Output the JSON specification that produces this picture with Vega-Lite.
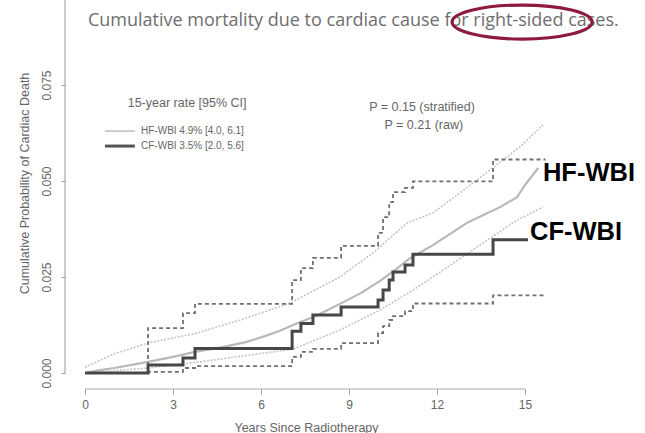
{
  "$schema": "https://vega.github.io/schema/vega-lite/v6.json",
  "width": 580,
  "height": 389,
  "autosize": {"type": "none"},
  "padding": {"left": 65, "top": 0, "right": 0, "bottom": 44},
  "background": "white",
  "config": {
    "view": {"stroke": null},
    "text": {"font": "Liberation Sans"}
  },
  "datasets": {
    "curves": [
      {"curve": "HF-WBI", "t": 0, "p": 0},
      {"curve": "HF-WBI", "t": 0.4, "p": 0.0006},
      {"curve": "HF-WBI", "t": 1.0, "p": 0.0013},
      {"curve": "HF-WBI", "t": 2.15, "p": 0.0029},
      {"curve": "HF-WBI", "t": 3.0, "p": 0.0042},
      {"curve": "HF-WBI", "t": 3.75, "p": 0.0055},
      {"curve": "HF-WBI", "t": 4.6, "p": 0.0066},
      {"curve": "HF-WBI", "t": 5.52, "p": 0.0081},
      {"curve": "HF-WBI", "t": 6.2, "p": 0.0098},
      {"curve": "HF-WBI", "t": 6.65, "p": 0.0110},
      {"curve": "HF-WBI", "t": 7.09, "p": 0.0125},
      {"curve": "HF-WBI", "t": 7.9, "p": 0.0150},
      {"curve": "HF-WBI", "t": 8.69, "p": 0.0180},
      {"curve": "HF-WBI", "t": 9.4, "p": 0.0208},
      {"curve": "HF-WBI", "t": 10.06, "p": 0.0240},
      {"curve": "HF-WBI", "t": 10.6, "p": 0.0270},
      {"curve": "HF-WBI", "t": 11.08, "p": 0.0299},
      {"curve": "HF-WBI", "t": 11.86, "p": 0.0333},
      {"curve": "HF-WBI", "t": 12.5, "p": 0.0365},
      {"curve": "HF-WBI", "t": 13.02, "p": 0.0391},
      {"curve": "HF-WBI", "t": 13.6, "p": 0.0412},
      {"curve": "HF-WBI", "t": 14.15, "p": 0.0432},
      {"curve": "HF-WBI", "t": 14.73, "p": 0.0458},
      {"curve": "HF-WBI", "t": 15.0, "p": 0.0490},
      {"curve": "HF-WBI", "t": 15.45, "p": 0.0534},

      {"curve": "HF-WBI upper", "t": 0, "p": 0.0015},
      {"curve": "HF-WBI upper", "t": 1.0, "p": 0.0050},
      {"curve": "HF-WBI upper", "t": 2.15, "p": 0.0078},
      {"curve": "HF-WBI upper", "t": 3.82, "p": 0.0104},
      {"curve": "HF-WBI upper", "t": 5.29, "p": 0.0138},
      {"curve": "HF-WBI upper", "t": 6.99, "p": 0.0182},
      {"curve": "HF-WBI upper", "t": 8.69, "p": 0.0250},
      {"curve": "HF-WBI upper", "t": 9.82, "p": 0.0313},
      {"curve": "HF-WBI upper", "t": 10.98, "p": 0.0391},
      {"curve": "HF-WBI upper", "t": 11.86, "p": 0.0417},
      {"curve": "HF-WBI upper", "t": 12.78, "p": 0.0469},
      {"curve": "HF-WBI upper", "t": 13.81, "p": 0.0529},
      {"curve": "HF-WBI upper", "t": 14.83, "p": 0.0589},
      {"curve": "HF-WBI upper", "t": 15.61, "p": 0.0646},

      {"curve": "HF-WBI lower", "t": 0, "p": 0},
      {"curve": "HF-WBI lower", "t": 1.0, "p": 0.0006},
      {"curve": "HF-WBI lower", "t": 2.15, "p": 0.0013},
      {"curve": "HF-WBI lower", "t": 3.92, "p": 0.0029},
      {"curve": "HF-WBI lower", "t": 5.63, "p": 0.0047},
      {"curve": "HF-WBI lower", "t": 7.09, "p": 0.0062},
      {"curve": "HF-WBI lower", "t": 8.69, "p": 0.0112},
      {"curve": "HF-WBI lower", "t": 10.06, "p": 0.0164},
      {"curve": "HF-WBI lower", "t": 11.08, "p": 0.0211},
      {"curve": "HF-WBI lower", "t": 11.86, "p": 0.0250},
      {"curve": "HF-WBI lower", "t": 13.57, "p": 0.0339},
      {"curve": "HF-WBI lower", "t": 14.73, "p": 0.0398},
      {"curve": "HF-WBI lower", "t": 15.61, "p": 0.0432},

      {"curve": "CF-WBI", "t": 0, "p": 0},
      {"curve": "CF-WBI", "t": 2.15, "p": 0.0021},
      {"curve": "CF-WBI", "t": 3.34, "p": 0.0039},
      {"curve": "CF-WBI", "t": 3.75, "p": 0.0064},
      {"curve": "CF-WBI", "t": 7.06, "p": 0.0109},
      {"curve": "CF-WBI", "t": 7.36, "p": 0.0129},
      {"curve": "CF-WBI", "t": 7.77, "p": 0.0151},
      {"curve": "CF-WBI", "t": 8.73, "p": 0.0172},
      {"curve": "CF-WBI", "t": 9.99, "p": 0.0190},
      {"curve": "CF-WBI", "t": 10.16, "p": 0.0216},
      {"curve": "CF-WBI", "t": 10.37, "p": 0.0242},
      {"curve": "CF-WBI", "t": 10.5, "p": 0.0263},
      {"curve": "CF-WBI", "t": 10.91, "p": 0.0281},
      {"curve": "CF-WBI", "t": 11.18, "p": 0.0309},
      {"curve": "CF-WBI", "t": 13.91, "p": 0.0347},
      {"curve": "CF-WBI", "t": 15.1, "p": 0.0347},

      {"curve": "CF-WBI upper", "t": 0, "p": 0},
      {"curve": "CF-WBI upper", "t": 2.15, "p": 0.0117},
      {"curve": "CF-WBI upper", "t": 3.34, "p": 0.0156},
      {"curve": "CF-WBI upper", "t": 3.75, "p": 0.0180},
      {"curve": "CF-WBI upper", "t": 7.06, "p": 0.0242},
      {"curve": "CF-WBI upper", "t": 7.36, "p": 0.0273},
      {"curve": "CF-WBI upper", "t": 7.77, "p": 0.0300},
      {"curve": "CF-WBI upper", "t": 8.73, "p": 0.0331},
      {"curve": "CF-WBI upper", "t": 9.99, "p": 0.0365},
      {"curve": "CF-WBI upper", "t": 10.16, "p": 0.0406},
      {"curve": "CF-WBI upper", "t": 10.37, "p": 0.0445},
      {"curve": "CF-WBI upper", "t": 10.5, "p": 0.0471},
      {"curve": "CF-WBI upper", "t": 10.91, "p": 0.0482},
      {"curve": "CF-WBI upper", "t": 11.18, "p": 0.0499},
      {"curve": "CF-WBI upper", "t": 13.91, "p": 0.0556},
      {"curve": "CF-WBI upper", "t": 15.7, "p": 0.0556},

      {"curve": "CF-WBI lower", "t": 0, "p": 0},
      {"curve": "CF-WBI lower", "t": 2.15, "p": 0.0003},
      {"curve": "CF-WBI lower", "t": 3.34, "p": 0.0013},
      {"curve": "CF-WBI lower", "t": 3.75, "p": 0.0018},
      {"curve": "CF-WBI lower", "t": 7.06, "p": 0.0042},
      {"curve": "CF-WBI lower", "t": 7.36, "p": 0.0055},
      {"curve": "CF-WBI lower", "t": 7.77, "p": 0.0063},
      {"curve": "CF-WBI lower", "t": 8.73, "p": 0.0078},
      {"curve": "CF-WBI lower", "t": 9.99, "p": 0.0104},
      {"curve": "CF-WBI lower", "t": 10.16, "p": 0.0122},
      {"curve": "CF-WBI lower", "t": 10.37, "p": 0.0138},
      {"curve": "CF-WBI lower", "t": 10.5, "p": 0.0148},
      {"curve": "CF-WBI lower", "t": 10.91, "p": 0.0161},
      {"curve": "CF-WBI lower", "t": 11.18, "p": 0.0181},
      {"curve": "CF-WBI lower", "t": 13.91, "p": 0.0202},
      {"curve": "CF-WBI lower", "t": 15.7, "p": 0.0202}
    ]
  },
  "layer": [
    {
      "data": {"name": "curves"},
      "transform": [{"filter": "datum.curve === 'HF-WBI upper' || datum.curve === 'HF-WBI lower'"}],
      "mark": {"type": "line", "color": "#c4c4c4", "strokeWidth": 1.6, "strokeDash": [2, 1.5]},
      "encoding": {
        "x": {
          "field": "t",
          "type": "quantitative",
          "scale": {"domain": [-0.682, 19.09], "nice": false, "zero": false},
          "axis": {
            "values": [0, 3, 6, 9, 12, 15],
            "domain": false,
            "grid": false,
            "tickSize": 5,
            "tickColor": "#999999",
            "labelFont": "Liberation Sans",
            "labelFontSize": 12,
            "labelColor": "#666666",
            "labelPadding": 5,
            "labelFlush": false,
            "labelOverlap": false,
            "title": "Years Since Radiotherapy",
            "titleFont": "Liberation Sans",
            "titleFontSize": 12.5,
            "titleFontWeight": "normal",
            "titleColor": "#666666",
            "titleX": 241,
            "titleY": 42,
            "titleAlign": "center",
            "titleBaseline": "alphabetic"
          }
        },
        "y": {
          "field": "p",
          "type": "quantitative",
          "scale": {"domain": [-0.004167, 0.09714], "nice": false, "zero": false},
          "axis": {
            "values": [0, 0.025, 0.05, 0.075, 0.1],
            "format": ".3f",
            "domain": false,
            "grid": false,
            "tickSize": 4,
            "tickColor": "#999999",
            "labelFont": "Liberation Sans",
            "labelFontSize": 12,
            "labelColor": "#666666",
            "labelAngle": 270,
            "labelAlign": "center",
            "labelBaseline": "bottom",
            "labelPadding": 8,
            "labelFlush": false,
            "labelOverlap": false,
            "title": "Cumulative Probability of Cardiac Death",
            "titleFont": "Liberation Sans",
            "titleFontSize": 12.5,
            "titleFontWeight": "normal",
            "titleColor": "#666666",
            "titleAngle": 270,
            "titleX": -41,
            "titleY": 183,
            "titleAlign": "center",
            "titleBaseline": "middle"
          }
        },
        "detail": {"field": "curve"}
      }
    },
    {
      "data": {"name": "curves"},
      "transform": [{"filter": "datum.curve === 'HF-WBI'"}],
      "mark": {"type": "line", "color": "#b8b8b8", "strokeWidth": 2.2},
      "encoding": {
        "x": {"field": "t", "type": "quantitative"},
        "y": {"field": "p", "type": "quantitative"}
      }
    },
    {
      "data": {"name": "curves"},
      "transform": [{"filter": "datum.curve === 'CF-WBI upper' || datum.curve === 'CF-WBI lower'"}],
      "mark": {"type": "line", "interpolate": "step-after", "color": "#707070", "strokeWidth": 1.8, "strokeDash": [4, 3]},
      "encoding": {
        "x": {"field": "t", "type": "quantitative"},
        "y": {"field": "p", "type": "quantitative"},
        "detail": {"field": "curve"}
      }
    },
    {
      "data": {"name": "curves"},
      "transform": [{"filter": "datum.curve === 'CF-WBI'"}],
      "mark": {"type": "line", "interpolate": "step-after", "color": "#474747", "strokeWidth": 3},
      "encoding": {
        "x": {"field": "t", "type": "quantitative"},
        "y": {"field": "p", "type": "quantitative"}
      }
    },
    {
      "data": {"values": [{"axis": "x"}]},
      "mark": {"type": "rule", "color": "#aaaaaa", "strokeWidth": 1.2},
      "encoding": {"x": {"datum": 0}, "x2": {"datum": 15}, "y": {"value": "height"}}
    },
    {
      "data": {"values": [{"axis": "y"}]},
      "mark": {"type": "rule", "color": "#aaaaaa", "strokeWidth": 1.2},
      "encoding": {"x": {"value": 0}, "y": {"datum": 0}, "y2": {"datum": 0.1}}
    },
    {
      "data": {"values": [{"label": "title"}]},
      "mark": {"type": "text", "align": "left", "baseline": "middle", "font": "Open Sans", "fontSize": 18, "color": "#6e6e6e", "text": "Cumulative mortality due to cardiac cause for right-sided cases."},
      "encoding": {"x": {"datum": 0.1}, "y": {"datum": 0.0917}}
    },
    {
      "data": {"values": [{"label": "highlight"}]},
      "mark": {"type": "point", "shape": "M-1,0A1,0.243,0,1,0,1,0A1,0.243,0,1,0,-1,0Z", "size": 19600, "filled": false, "stroke": "#8e1b3d", "strokeWidth": 3.2, "opacity": 1},
      "encoding": {"x": {"datum": 14.9}, "y": {"datum": 0.0914}}
    },
    {
      "data": {"values": [{"label": "legend title"}]},
      "mark": {"type": "text", "align": "center", "baseline": "middle", "fontSize": 12.5, "color": "#666666", "text": "15-year rate [95% CI]"},
      "encoding": {"x": {"datum": 3.48}, "y": {"datum": 0.0703}}
    },
    {
      "data": {"values": [{"label": "HF key"}]},
      "mark": {"type": "rule", "color": "#c0c0c0", "strokeWidth": 1.6},
      "encoding": {"x": {"datum": 0.68}, "x2": {"datum": 1.7}, "y": {"datum": 0.063}}
    },
    {
      "data": {"values": [{"label": "HF text"}]},
      "mark": {"type": "text", "align": "left", "baseline": "middle", "fontSize": 10, "color": "#666666", "text": "HF-WBI 4.9% [4.0, 6.1]"},
      "encoding": {"x": {"datum": 1.91}, "y": {"datum": 0.063}}
    },
    {
      "data": {"values": [{"label": "CF key"}]},
      "mark": {"type": "rule", "color": "#555555", "strokeWidth": 3},
      "encoding": {"x": {"datum": 0.68}, "x2": {"datum": 1.7}, "y": {"datum": 0.0591}}
    },
    {
      "data": {"values": [{"label": "CF text"}]},
      "mark": {"type": "text", "align": "left", "baseline": "middle", "fontSize": 10, "color": "#666666", "text": "CF-WBI 3.5% [2.0, 5.6]"},
      "encoding": {"x": {"datum": 1.91}, "y": {"datum": 0.0591}}
    },
    {
      "data": {"values": [{"label": "p stratified"}]},
      "mark": {"type": "text", "align": "center", "baseline": "middle", "fontSize": 12.5, "color": "#666666", "text": "P = 0.15 (stratified)"},
      "encoding": {"x": {"datum": 11.49}, "y": {"datum": 0.0693}}
    },
    {
      "data": {"values": [{"label": "p raw"}]},
      "mark": {"type": "text", "align": "center", "baseline": "middle", "fontSize": 12.5, "color": "#666666", "text": "P = 0.21 (raw)"},
      "encoding": {"x": {"datum": 11.55}, "y": {"datum": 0.0646}}
    },
    {
      "data": {"values": [{"label": "HF end"}]},
      "mark": {"type": "text", "align": "left", "baseline": "middle", "fontSize": 25.5, "fontWeight": "bold", "color": "#000000", "text": "HF-WBI"},
      "encoding": {"x": {"datum": 15.61}, "y": {"datum": 0.0522}}
    },
    {
      "data": {"values": [{"label": "CF end"}]},
      "mark": {"type": "text", "align": "left", "baseline": "middle", "fontSize": 25.5, "fontWeight": "bold", "color": "#000000", "text": "CF-WBI"},
      "encoding": {"x": {"datum": 15.17}, "y": {"datum": 0.0367}}
    }
  ]
}
